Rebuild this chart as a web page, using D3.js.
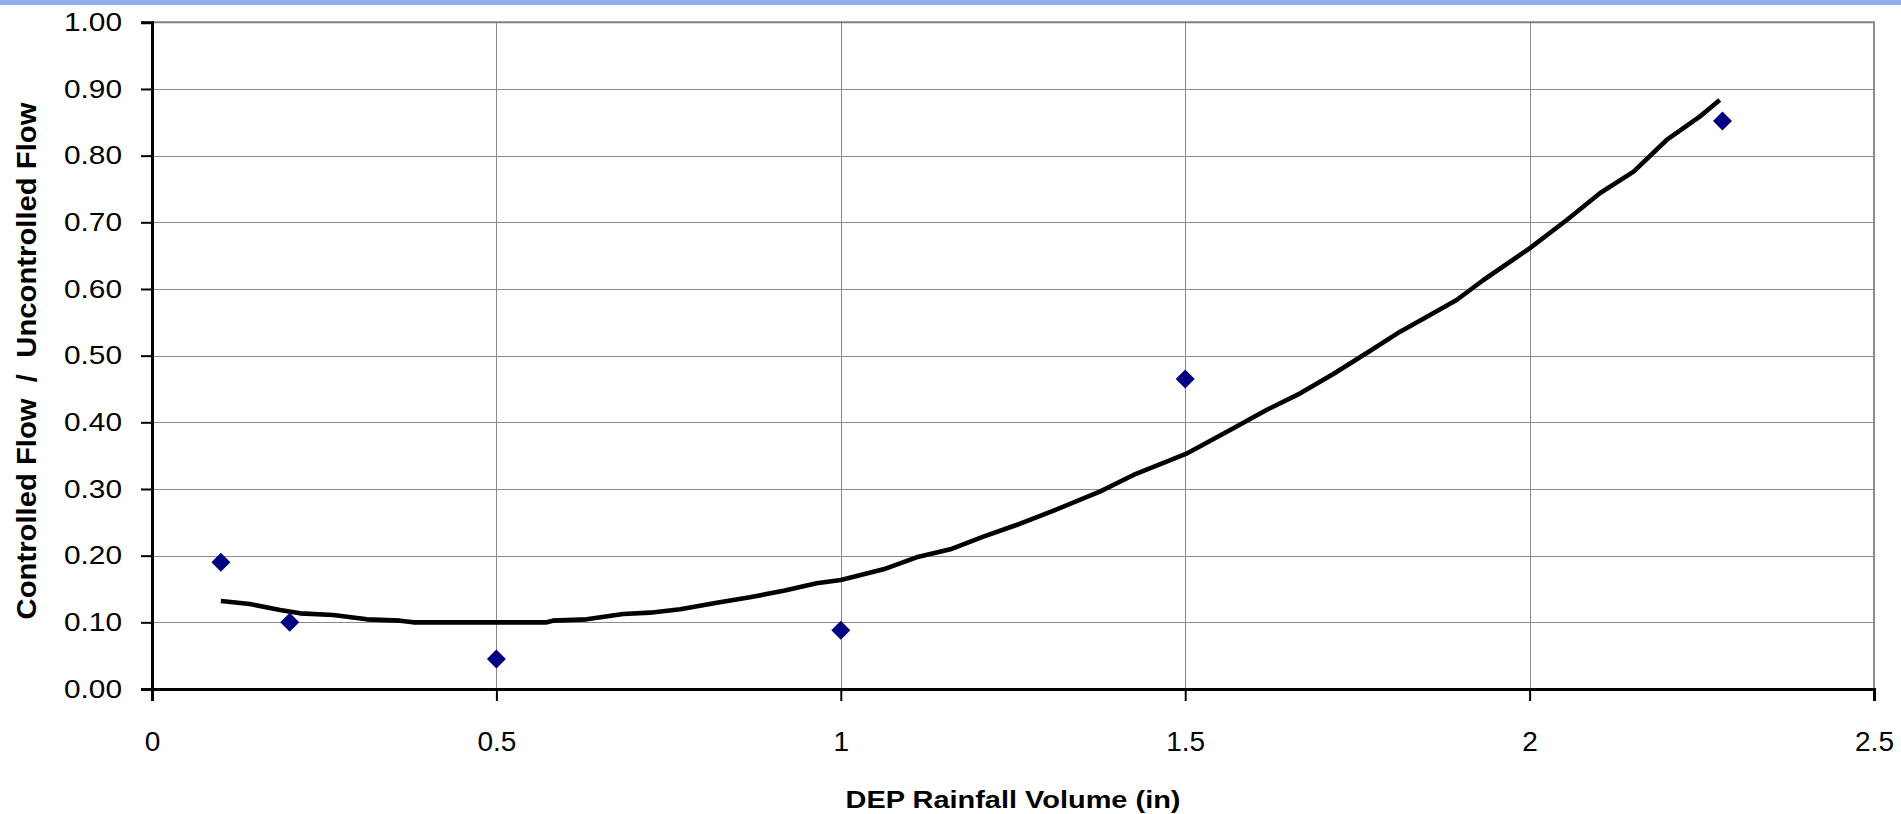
<!DOCTYPE html>
<html>
<head>
<meta charset="utf-8">
<script src="https://cdn.jsdelivr.net/npm/d3@7"></script>
<style>
  html, body { margin: 0; padding: 0; background: #ffffff; }
  svg { display: block; }
  text { font-family: "Liberation Sans", Arial, sans-serif; }
</style>
</head>
<body>
<svg id="chart" width="1901" height="814"></svg>
<script>
// Observed data points (DEP rainfall volume vs flow ratio)
const pointX = [0.1, 0.2, 0.5, 1.0, 1.5, 2.28];
const pointY = [0.19, 0.10, 0.045, 0.088, 0.465, 0.852];

// Trend line
const curveX = [0.10, 0.142, 0.186, 0.215, 0.263, 0.312, 0.360, 0.379, 0.495, 0.573, 0.582, 0.631, 0.684, 0.723, 0.767, 0.820, 0.868, 0.917, 0.965, 1.00, 1.062, 1.110, 1.159, 1.207, 1.255, 1.31, 1.376, 1.425, 1.501, 1.570, 1.618, 1.667, 1.715, 1.763, 1.812, 1.860, 1.894, 1.933, 2.000, 2.054, 2.102, 2.151, 2.199, 2.247, 2.276];
const curveY = [0.132, 0.1275, 0.1185, 0.1135, 0.111, 0.1045, 0.1025, 0.1, 0.1, 0.1, 0.1025, 0.1045, 0.1125, 0.1145, 0.1195, 0.1295, 0.1375, 0.1475, 0.1585, 0.1635, 0.1795, 0.1975, 0.2095, 0.2285, 0.246, 0.268, 0.296, 0.321, 0.3525, 0.391, 0.4185, 0.4435, 0.4725, 0.5035, 0.536, 0.5635, 0.5835, 0.6135, 0.661, 0.7035, 0.7435, 0.776, 0.8235, 0.8585, 0.8835];

const xTicks = [0, 0.5, 1, 1.5, 2, 2.5];
const yTicks = [0, 0.1, 0.2, 0.3, 0.4, 0.5, 0.6, 0.7, 0.8, 0.9, 1.0];

const xTitle = "DEP Rainfall Volume (in)";
const yTitle = "Controlled Flow  /  Uncontrolled Flow";

const svg = d3.select("#chart");

// thin blue band at the very top
svg.append("rect").attr("x", 0).attr("y", 0).attr("width", 1901).attr("height", 5).attr("fill", "#8fafeb");

const pLeft = 152, pRight = 1874, pTop = 22.3, pBottom = 689;
const x = d3.scaleLinear().domain([0, 2.5]).range([pLeft, pRight]);
const y = d3.scaleLinear().domain([0, 1]).range([pBottom, pTop]);

// gridlines
const grid = svg.append("g");
grid.selectAll("line.h").data(yTicks.filter(d => d > 0 && d < 1)).join("line")
  .attr("x1", pLeft).attr("x2", pRight)
  .attr("y1", d => Math.round(y(d)) + 0.5).attr("y2", d => Math.round(y(d)) + 0.5)
  .attr("stroke", "#8a8a8a").attr("stroke-width", 1);
grid.selectAll("line.v").data(xTicks.filter(d => d > 0 && d < 2.5)).join("line")
  .attr("y1", pTop).attr("y2", pBottom)
  .attr("x1", d => Math.round(x(d)) + 0.5).attr("x2", d => Math.round(x(d)) + 0.5)
  .attr("stroke", "#8a8a8a").attr("stroke-width", 1);

// plot-area border (top and right, gray)
svg.append("line").attr("x1", pLeft).attr("x2", pRight + 1).attr("y1", pTop).attr("y2", pTop)
  .attr("stroke", "#808080").attr("stroke-width", 2);
svg.append("line").attr("x1", pRight).attr("x2", pRight).attr("y1", pTop).attr("y2", pBottom)
  .attr("stroke", "#8c8c8c").attr("stroke-width", 2);

// axes
const yAxis = d3.axisLeft(y).tickValues(yTicks).tickFormat(d3.format(".2f")).tickSize(11).tickPadding(19);
const gy = svg.append("g").attr("transform", `translate(${pLeft},0)`).call(yAxis);
gy.select(".domain").attr("stroke", "#000").attr("stroke-width", 3);
gy.selectAll(".tick line").attr("stroke", "#000").attr("stroke-width", 2);
gy.selectAll(".tick text").attr("font-size", 26).attr("fill", "#000")
  .attr("font-family", "'Liberation Sans', Arial, sans-serif")
  .attr("textLength", 58).attr("lengthAdjust", "spacingAndGlyphs");

const xAxis = d3.axisBottom(x).tickValues(xTicks).tickFormat(d3.format("")).tickSize(12).tickPadding(0);
const gx = svg.append("g").attr("transform", `translate(0,${pBottom})`).call(xAxis);
gx.select(".domain").attr("stroke", "#000").attr("stroke-width", 3);
gx.selectAll(".tick line").attr("stroke", "#000").attr("stroke-width", 2);
gx.selectAll(".tick text").attr("font-size", 28).attr("fill", "#000")
  .attr("font-family", "'Liberation Sans', Arial, sans-serif")
  .attr("dy", null).attr("y", 62);

// trend line
const curveData = curveX.map((d, i) => [d, curveY[i]]);
svg.append("path").datum(curveData)
  .attr("d", d3.line().x(d => x(d[0])).y(d => y(d[1])))
  .attr("fill", "none").attr("stroke", "#000").attr("stroke-width", 4.6)
  .attr("stroke-linejoin", "round");

// data points (diamonds)
const pts = pointX.map((d, i) => [d, pointY[i]]);
svg.append("g").selectAll("path").data(pts).join("path")
  .attr("d", d3.symbol(d3.symbolSquare, 180))
  .attr("transform", d => `translate(${x(d[0])},${y(d[1])}) rotate(45)`)
  .attr("fill", "#000080");

// axis titles
svg.append("text").text(xTitle)
  .attr("x", (pLeft + pRight) / 2).attr("y", 808)
  .attr("text-anchor", "middle").attr("font-weight", "bold").attr("font-size", 23)
  .attr("textLength", 335).attr("lengthAdjust", "spacingAndGlyphs")
  .attr("fill", "#000");

svg.append("text").text(yTitle)
  .attr("transform", "translate(36,361) rotate(-90)")
  .attr("text-anchor", "middle").attr("font-weight", "bold").attr("font-size", 27)
  .attr("textLength", 517).attr("lengthAdjust", "spacingAndGlyphs")
  .style("white-space", "pre")
  .attr("fill", "#000");
</script>
</body>
</html>
